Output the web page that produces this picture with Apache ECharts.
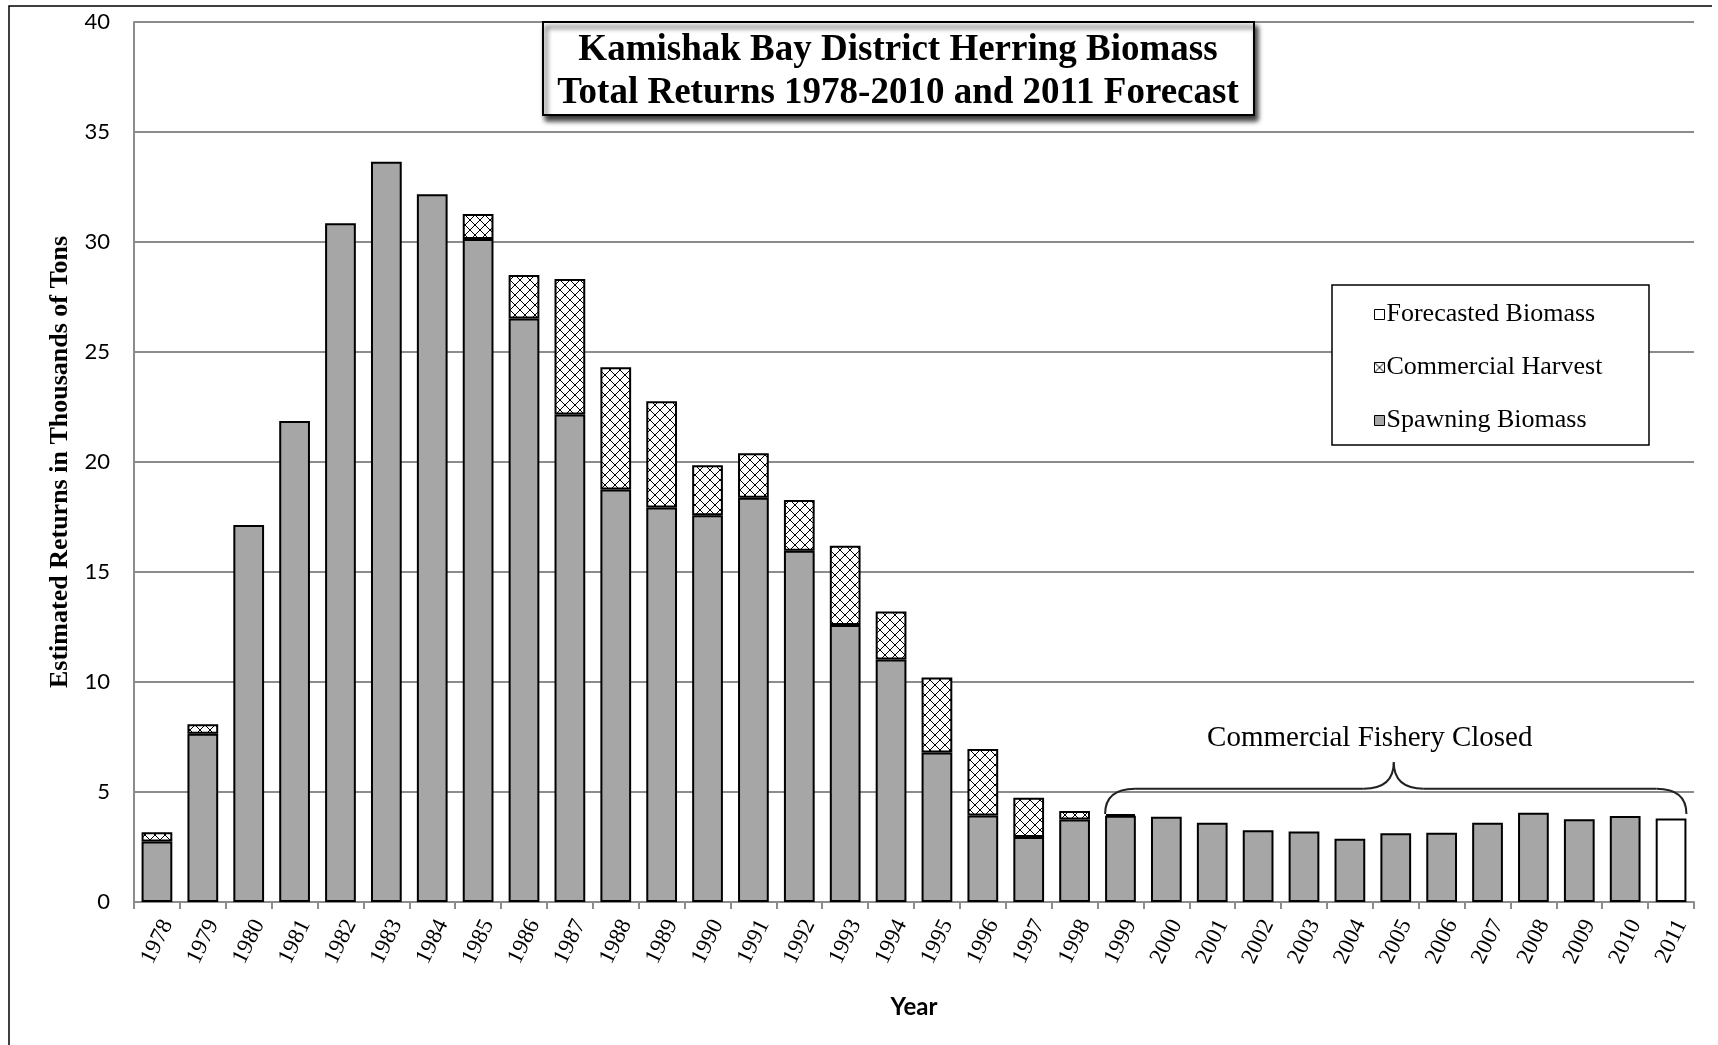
<!DOCTYPE html>
<html>
<head>
<meta charset="utf-8">
<title>Kamishak Bay District Herring Biomass</title>
<script src="https://cdn.jsdelivr.net/npm/echarts@6/dist/echarts.min.js"></script>
<style>
  html, body { margin: 0; padding: 0; background: #fff; }
  #chart { width: 1718px; height: 1045px; }
</style>
</head>
<body>
<div id="chart"></div>
<script>
  // years on the x axis
  var years = ['1978', '1979', '1980', '1981', '1982', '1983', '1984', '1985', '1986', '1987',
    '1988', '1989', '1990', '1991', '1992', '1993', '1994', '1995', '1996', '1997', '1998',
    '1999', '2000', '2001', '2002', '2003', '2004', '2005', '2006', '2007', '2008', '2009',
    '2010', '2011'];

  // thousands of tons
  var spawning = [2.75, 7.65, 17.14, 21.86, 30.85, 33.65, 32.17, 30.14, 26.52, 22.16,
    18.75, 17.93, 17.58, 18.38, 15.97, 12.59, 11.02, 6.80, 3.93, 2.95, 3.75,
    3.92, 3.88, 3.60, 3.26, 3.20, 2.88, 3.12, 3.15, 3.60, 4.06, 3.76,
    3.91, '-'];

  var harvest = [0.42, 0.43, '-', '-', '-', '-', '-', 1.13, 1.98, 6.16,
    5.56, 4.83, 2.27, 2.02, 2.30, 3.60, 2.18, 3.41, 3.02, 1.79, 0.39,
    0.08, '-', '-', '-', '-', '-', '-', '-', '-', '-', '-',
    '-', '-'];

  var forecast = ['-', '-', '-', '-', '-', '-', '-', '-', '-', '-',
    '-', '-', '-', '-', '-', '-', '-', '-', '-', '-', '-',
    '-', '-', '-', '-', '-', '-', '-', '-', '-', '-', '-',
    '-', 3.80];

  var yTicks = { min: 0, max: 40, interval: 5 };

  var titleText = 'Kamishak Bay District Herring Biomass\nTotal Returns 1978-2010 and 2011 Forecast';
  var closedText = 'Commercial Fishery Closed';

  var SERIF = '"Liberation Serif", "Times New Roman", serif';
  var SANS = 'Lato, "Open Sans", sans-serif';

  // crosshatch fill for the harvest part
  function makeHatch() {
    var c = document.createElement('canvas');
    c.width = 10;
    c.height = 10;
    var g = c.getContext('2d');
    g.fillStyle = '#fff';
    g.fillRect(0, 0, 10, 10);
    g.strokeStyle = '#000';
    g.lineWidth = 1;
    g.beginPath();
    g.moveTo(0, 0); g.lineTo(10, 10);
    g.moveTo(10, 0); g.lineTo(0, 10);
    g.stroke();
    return c;
  }

  var chart = echarts.init(document.getElementById('chart'), null, { renderer: 'canvas' });

  var barCommon = {
    type: 'bar',
    stack: 'total',
    barCategoryGap: '33%',
    emphasis: { disabled: true }
  };

  var option = {
    animation: false,
    backgroundColor: '#fff',
    legend: {
      orient: 'vertical',
      left: 1369,
      top: 296,
      itemWidth: 10,
      itemHeight: 10,
      itemGap: 26,
      icon: 'rect',
      z: 5,
      data: ['Forecasted Biomass', 'Commercial Harvest', 'Spawning Biomass'],
      itemStyle: { borderColor: '#000', borderWidth: 1 },
      textStyle: {
        fontFamily: SERIF,
        fontSize: 26,
        lineHeight: 27,
        color: '#000',
        padding: [0, 0, 0, -3]
      },
      selectedMode: false
    },
    grid: {
      left: 134,
      right: 24,
      top: 22,
      bottom: 143,
      containLabel: false
    },
    xAxis: {
      type: 'category',
      data: years,
      name: 'Year',
      nameLocation: 'middle',
      nameGap: 93,
      nameTextStyle: { fontFamily: SANS, fontWeight: 'bold', fontSize: 24, color: '#000' },
      axisLine: { lineStyle: { color: '#8c8c8c', width: 2 } },
      axisTick: { show: true, length: 7, alignWithLabel: false, lineStyle: { color: '#8c8c8c', width: 2 } },
      axisLabel: {
        rotate: 64,
        margin: 14,
        interval: 0,
        verticalAlign: 'top',
        fontFamily: SERIF,
        fontSize: 23,
        color: '#000'
      }
    },
    yAxis: {
      type: 'value',
      min: yTicks.min,
      max: yTicks.max,
      interval: yTicks.interval,
      name: 'Estimated Returns in Thousands of Tons',
      nameLocation: 'middle',
      nameRotate: 90,
      nameGap: 55,
      nameTextStyle: { fontFamily: SERIF, fontWeight: 'bold', fontSize: 26, color: '#000' },
      axisLine: { show: true, lineStyle: { color: '#8c8c8c', width: 2 } },
      axisTick: { show: false },
      axisLabel: { margin: 24, fontFamily: SANS, fontSize: 22, color: '#000' },
      splitLine: { lineStyle: { color: '#8c8c8c', width: 2 } }
    },
    series: [
      Object.assign({}, barCommon, {
        name: 'Spawning Biomass',
        data: spawning,
        itemStyle: { color: '#a6a6a6', borderColor: '#000', borderWidth: 2 }
      }),
      Object.assign({}, barCommon, {
        name: 'Commercial Harvest',
        data: harvest,
        itemStyle: {
          color: { image: makeHatch(), repeat: 'repeat' },
          borderColor: '#000',
          borderWidth: 2
        }
      }),
      Object.assign({}, barCommon, {
        name: 'Forecasted Biomass',
        data: forecast,
        itemStyle: { color: '#fff', borderColor: '#000', borderWidth: 2 }
      })
    ]
  };

  chart.setOption(option);

  // title box, legend frame, brace over the closed years, outer frame
  function drawExtras() {
    var c1999 = chart.convertToPixel({ xAxisIndex: 0 }, '1999');
    var c2000 = chart.convertToPixel({ xAxisIndex: 0 }, '2000');
    var c2011 = chart.convertToPixel({ xAxisIndex: 0 }, '2011');
    var half = (c2000 - c1999) * 0.335;
    var L = c1999 - half;
    var R = c2011 + half;
    var mid = (L + R) / 2 - 2;
    var y0 = chart.convertToPixel({ yAxisIndex: 0 }, 4.0);
    var y1 = chart.convertToPixel({ yAxisIndex: 0 }, 5.15);
    var y2 = chart.convertToPixel({ yAxisIndex: 0 }, 6.35);
    var yt = chart.convertToPixel({ yAxisIndex: 0 }, 7.45);
    var r = 30;
    var braceStyle = { fill: null, stroke: '#222', lineWidth: 2 };

    function curve(x1, ya, cx, cy, x2, yb) {
      return {
        type: 'bezierCurve', z: 10,
        shape: { x1: x1, y1: ya, cpx1: cx, cpy1: cy, x2: x2, y2: yb },
        style: braceStyle
      };
    }
    function seg(x1, x2, y) {
      return {
        type: 'line', z: 10,
        shape: { x1: x1, y1: y, x2: x2, y2: y },
        style: braceStyle
      };
    }

    chart.setOption({
      graphic: [
        {
          type: 'rect',
          z: 20,
          shape: { x: 543, y: 22, width: 711, height: 93 },
          style: {
            fill: '#fff', stroke: '#000', lineWidth: 2,
            shadowColor: 'rgba(0,0,0,0.8)', shadowBlur: 5,
            shadowOffsetX: 3, shadowOffsetY: 5
          }
        },
        {
          type: 'text',
          z: 21,
          x: 898,
          y: 72,
          style: {
            text: titleText,
            font: 'bold 37px ' + SERIF,
            lineHeight: 43,
            fill: '#000',
            align: 'center',
            verticalAlign: 'middle'
          }
        },
        {
          type: 'rect',
          z: 1,
          shape: { x: 1332, y: 285, width: 317, height: 160 },
          style: { fill: '#fff', stroke: '#000', lineWidth: 1.5 }
        },
        curve(L, y0, L, y1, L + r, y1),
        seg(L + r, mid - r, y1),
        curve(mid - r, y1, mid, y1, mid, y2),
        curve(mid, y2, mid, y1, mid + r, y1),
        seg(mid + r, R - r, y1),
        curve(R - r, y1, R, y1, R, y0),
        {
          type: 'text',
          z: 10,
          x: mid - 24,
          y: yt,
          style: {
            text: closedText,
            font: '29px ' + SERIF,
            fill: '#000',
            align: 'center',
            verticalAlign: 'middle'
          }
        },
        {
          type: 'polyline',
          z: 10,
          shape: { points: [[9, 1045], [9, 6], [1712, 6]] },
          style: { fill: null, stroke: '#000', lineWidth: 1.5 }
        }
      ]
    });
  }

  drawExtras();
</script>
</body>
</html>
